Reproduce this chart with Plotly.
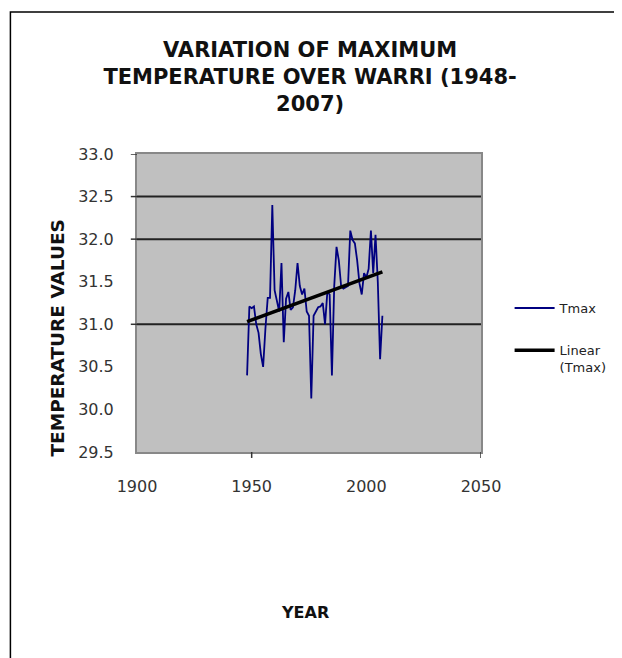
import numpy as np
import plotly.graph_objects as go

# Annual maximum temperature, Warri
years = list(range(1948, 2008))
tmax = [
    30.40, 31.21, 31.19, 31.21, 31.00, 30.90, 30.65, 30.50, 30.95, 31.31,
    31.31, 32.40, 31.40, 31.28, 31.15, 31.72, 30.79, 31.30, 31.38, 31.17,
    31.20, 31.40, 31.72, 31.45, 31.35, 31.42, 31.15, 31.10, 30.13, 31.10,
    31.15, 31.20, 31.21, 31.25, 31.00, 31.38, 31.35, 30.40, 31.45, 31.91,
    31.75, 31.45, 31.42, 31.44, 31.45, 32.10, 31.99, 31.95, 31.75, 31.48,
    31.35, 31.60, 31.55, 31.65, 32.10, 31.60, 32.05, 31.50, 30.59, 31.10,
]

y_ticks = [29.5, 30.0, 30.5, 31.0, 31.5, 32.0, 32.5, 33.0]
y_grid = [31.0, 32.0, 32.5]
y_marks = [31.0, 32.0, 32.5, 33.0]
x_ticks = [1900, 1950, 2000, 2050]
x_marks = [1950, 2050]

slope, icpt = np.polyfit(years, tmax, 1)
trend_x = [years[0], years[-1]]
trend_y = [icpt + slope * v for v in trend_x]

fig = go.Figure()
fig.add_trace(go.Scatter(x=years, y=tmax, mode="lines", name="Tmax",
                         line=dict(color="#000080", width=1.8)))
fig.add_trace(go.Scatter(x=trend_x, y=trend_y, mode="lines", name="Linear<br>(Tmax)",
                         line=dict(color="black", width=3.5), legend="legend2"))

shapes = []
for g in y_grid:
    shapes.append(dict(type="line", xref="paper", yref="y", x0=0, x1=1, y0=g, y1=g,
                       line=dict(color="#222", width=2), layer="below"))
for m in y_marks:
    shapes.append(dict(type="line", xref="paper", yref="y", x0=-0.018, x1=0, y0=m, y1=m,
                       line=dict(color="#333", width=1.5)))
for m in x_marks:
    shapes.append(dict(type="line", xref="x", yref="paper", x0=m, x1=m, y0=0, y1=-0.02,
                       line=dict(color="#333", width=1.5)))
# outer chart frame (left and top edges only visible)
shapes.append(dict(type="path", xref="paper", yref="paper",
                   path="M -0.368 -1.2 L -0.368 1.4765 L 1.6 1.4765",
                   line=dict(color="black", width=1.5)))

tick_font = dict(family="DejaVu Sans", size=16, color="#333")
legend_font = dict(family="DejaVu Sans", size=13, color="#222")

fig.update_layout(
    width=614, height=650,
    margin=dict(l=129, r=140, t=146, b=206),
    paper_bgcolor="white", plot_bgcolor="#C0C0C0",
    font=dict(family="DejaVu Sans", color="#222"),
    showlegend=True,
    title=dict(text="<b>VARIATION OF MAXIMUM<br>TEMPERATURE OVER WARRI (1948-<br>2007)</b>",
               x=0.492, xanchor="center", y=0.925, yanchor="top",
               font=dict(family="DejaVu Sans", size=21, color="#111")),
    xaxis=dict(range=[1900, 2050], tickvals=x_ticks, showgrid=False, zeroline=False,
               showline=True, mirror=True, linecolor="#888", linewidth=2,
               ticks="", ticklabelstandoff=19, tickfont=tick_font),
    yaxis=dict(range=[29.5, 33.0], tickvals=y_ticks, tickformat=".1f", showgrid=False,
               zeroline=False, showline=True, mirror=True, linecolor="#888", linewidth=2,
               ticks="", ticklabelstandoff=18, tickfont=tick_font),
    legend=dict(x=1.08, y=0.483, xanchor="left", yanchor="middle", font=legend_font,
                itemwidth=40, bgcolor="rgba(0,0,0,0)"),
    legend2=dict(x=1.08, y=0.392, xanchor="left", yanchor="top", font=legend_font,
                 itemwidth=40, valign="top", bgcolor="rgba(0,0,0,0)"),
    shapes=shapes,
    annotations=[
        dict(text="<b>TEMPERATURE VALUES</b>", xref="paper", yref="paper",
             x=-0.267, y=0.383, textangle=-90, showarrow=False,
             font=dict(family="DejaVu Sans", size=18.5, color="#111")),
        dict(text="<b>YEAR</b>", xref="paper", yref="paper", x=0.487, y=-0.576,
             showarrow=False, font=dict(family="DejaVu Sans", size=16, color="#111")),
    ],
)

fig.write_html("out.html")
